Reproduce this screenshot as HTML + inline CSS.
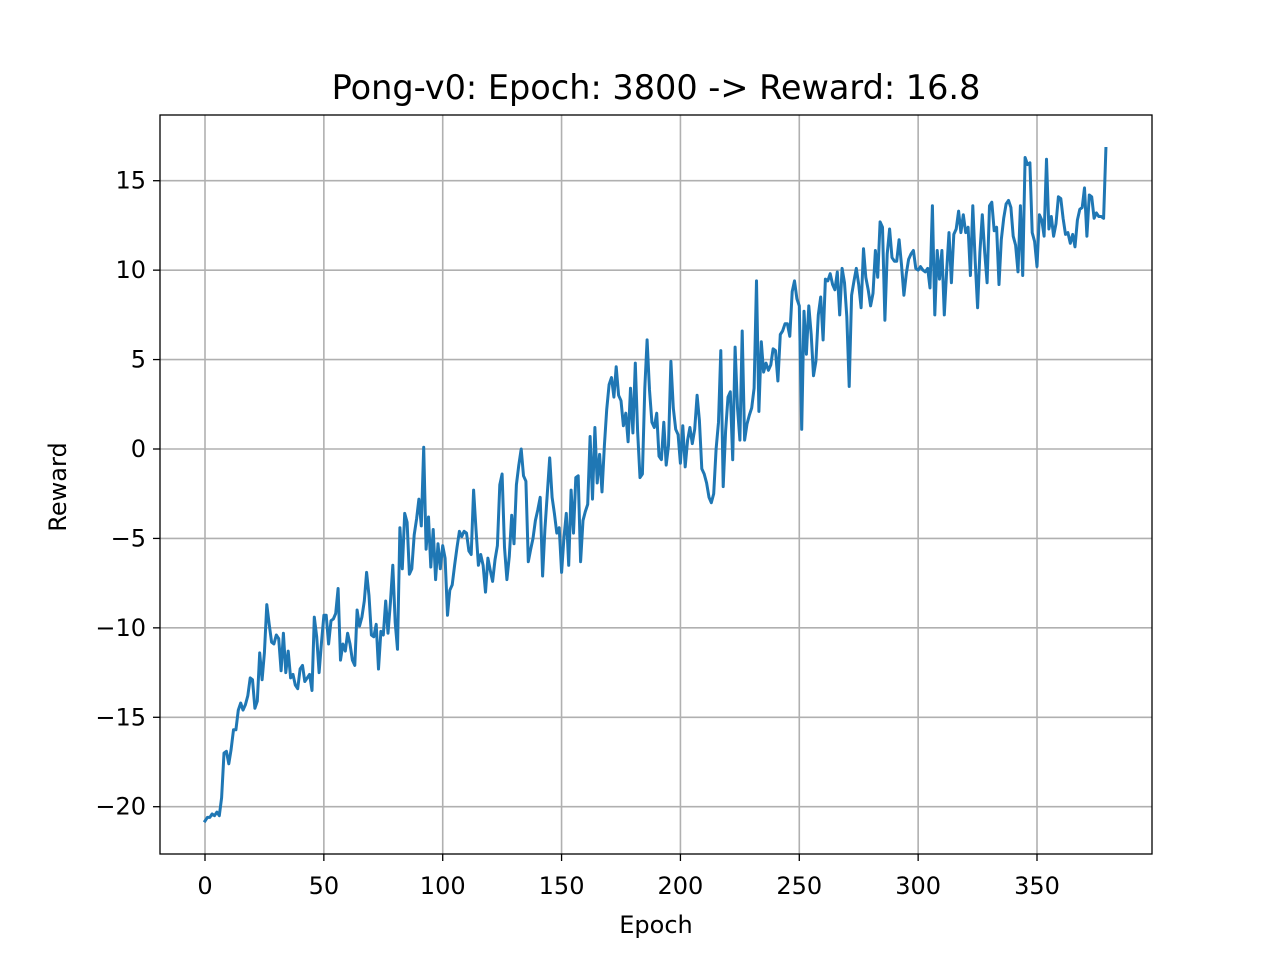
<!DOCTYPE html>
<html><head><meta charset="utf-8"><style>
body{margin:0;background:#fff}
svg text{font-family:"DejaVu Sans","Liberation Sans",sans-serif;fill:#000}
</style></head><body>
<svg id="chart" width="1280" height="960">
<rect width="1280" height="960" fill="#fff"/>
<g id="grid"></g>
<g id="series"></g>
<rect x="160" y="115" width="992" height="739" fill="none" stroke="#000" stroke-width="1.3"/>
<g id="ticks"></g>
<text x="656" y="99" font-size="33.5" text-anchor="middle">Pong-v0: Epoch: 3800 -&gt; Reward: 16.8</text>
<text x="656" y="933" font-size="24" text-anchor="middle">Epoch</text>
<text x="66" y="487" font-size="24" text-anchor="middle" transform="rotate(-90 66 487)">Reward</text>
</svg>
<script>
const xTicks=[0,50,100,150,200,250,300,350];
const yTicks=[-20,-15,-10,-5,0,5,10,15];
const rewards=[-20.8,-20.6,-20.6,-20.4,-20.5,-20.3,-20.5,-19.5,-17,-16.9,
-17.6,-16.8,-15.7,-15.7,-14.6,-14.2,-14.6,-14.3,-13.8,-12.8,
-12.9,-14.5,-14.1,-11.4,-12.9,-11.4,-8.7,-9.8,-10.8,-10.9,
-10.4,-10.6,-12.4,-10.3,-12.5,-11.3,-12.8,-12.6,-13.2,-13.4,
-12.3,-12.1,-13,-12.8,-12.6,-13.5,-9.4,-10.5,-12.5,-10.8,
-9.3,-9.3,-10.9,-9.6,-9.5,-9.2,-7.8,-11.8,-10.9,-11.3,
-10.3,-10.9,-11.8,-12.1,-9.0,-9.9,-9.4,-8.5,-6.9,-8.2,
-10.4,-10.5,-9.8,-12.3,-10.2,-10.4,-8.5,-10.3,-8.6,-6.5,
-9.7,-11.2,-4.4,-6.7,-3.6,-4.1,-7.0,-6.7,-4.8,-3.9,
-2.8,-4.3,0.1,-5.6,-3.8,-6.6,-4.5,-7.3,-5.3,-6.7,
-5.4,-6.1,-9.3,-7.9,-7.6,-6.5,-5.5,-4.6,-4.9,-4.6,
-4.7,-5.7,-5.9,-2.3,-4.5,-6.5,-5.9,-6.5,-8.0,-6.1,
-6.8,-7.4,-6.2,-5.4,-2.0,-1.4,-5.5,-7.3,-6.0,-3.7,
-5.3,-2.0,-0.9,0.0,-1.5,-1.8,-6.3,-5.6,-5.0,-4.0,
-3.4,-2.7,-7.1,-4.5,-2.5,-0.5,-2.7,-3.6,-4.7,-4.4,
-6.9,-5.0,-3.6,-6.5,-2.3,-4.7,-1.6,-1.5,-6.3,-4.0,
-3.5,-3.1,0.7,-2.8,1.2,-1.9,-0.3,-2.4,0.2,2.2,
3.6,4.0,2.9,4.6,3.0,2.7,1.3,2.0,0.4,3.4,
0.9,4.8,1.0,-1.6,-1.4,3.4,6.1,3.3,1.5,1.2,
2.0,-0.4,-0.6,1.5,-0.9,0.2,4.9,2.3,1.1,0.8,
-0.8,1.3,-1.0,0.5,1.2,0.3,1.1,3.0,1.6,-1.1,
-1.4,-1.9,-2.7,-3.0,-2.5,0.0,1.5,5.5,-2.1,1.0,
2.9,3.2,-0.6,5.7,2.3,0.5,6.6,0.5,1.4,1.9,
2.3,3.4,9.4,2.1,6.0,4.3,4.8,4.4,4.7,5.6,
5.5,3.8,6.4,6.6,7.0,7.0,6.3,8.8,9.4,8.4,
8.0,1.1,7.7,5.3,8.0,6.4,4.1,4.9,7.5,8.5,
6.1,9.5,9.4,9.8,9.2,8.9,9.9,7.5,10.1,9.3,
7.4,3.5,8.6,9.4,10.1,9.2,7.9,11.2,9.6,8.9,
8.0,8.7,11.1,9.6,12.7,12.4,7.2,10.9,12.3,10.7,
10.5,10.5,11.7,10.3,8.6,9.8,10.6,10.9,11.1,10.1,
10.0,10.2,10.0,9.9,10.1,9.0,13.6,7.5,11.1,9.5,
11.1,7.5,10.0,12.1,9.3,12.0,12.3,13.3,12.1,13.1,
12.1,12.4,9.7,13.6,10.5,7.9,11.0,13.1,11.0,9.3,
13.6,13.8,12.2,12.4,9.2,11.7,12.9,13.7,13.9,13.5,
11.9,11.4,9.9,13.6,9.7,16.3,15.9,16.0,12.1,11.6,
10.2,13.1,12.8,11.9,16.2,12.3,13.0,11.9,12.6,14.1,
14.0,12.9,12.0,12.1,11.5,12.0,11.3,12.8,13.4,13.5,
14.6,11.9,14.2,14.1,12.9,13.2,13.0,13.0,12.9,16.8];
const NS='http://www.w3.org/2000/svg';
function xs(v){return 205+v*(832/350);}
function ys(v){return 449-v*(626/35);}
const grid=document.getElementById('grid'),ticks=document.getElementById('ticks');
function mk(t,a,p){const e=document.createElementNS(NS,t);for(const k in a)e.setAttribute(k,a[k]);p.appendChild(e);return e;}
xTicks.forEach(v=>{const x=xs(v);
 const g=mk('line',{x1:x,x2:x,y1:115,y2:854,stroke:'#b0b0b0','stroke-width':1.6},grid);
 
 
 const t=mk('line',{x1:x,x2:x,y1:854,y2:861,stroke:'#000','stroke-width':1.3},ticks);
 
 
 const l=mk('text',{x:x,y:894,'font-size':24,'text-anchor':'middle'},ticks);l.textContent=v;
 
 
});
yTicks.forEach(v=>{const y=ys(v);
 const g=mk('line',{x1:160,x2:1152,y1:y,y2:y,stroke:'#b0b0b0','stroke-width':1.6},grid);
 
 
 const t=mk('line',{x1:153,x2:160,y1:y,y2:y,stroke:'#000','stroke-width':1.3},ticks);
 
 
 const l=mk('text',{x:146,y:y+8,'font-size':24,'text-anchor':'end'},ticks);l.textContent=(v<0?'\u2212'+(-v):v);
 
 
});
const pts=rewards.map((r,i)=>xs(i).toFixed(1)+','+ys(r).toFixed(1)).join(' ');
const pl=mk('polyline',{points:pts,fill:'none',stroke:'#1f77b4','stroke-width':3,'stroke-linejoin':'round','stroke-linecap':'square'},document.getElementById('series'));


</script>
</body></html>
